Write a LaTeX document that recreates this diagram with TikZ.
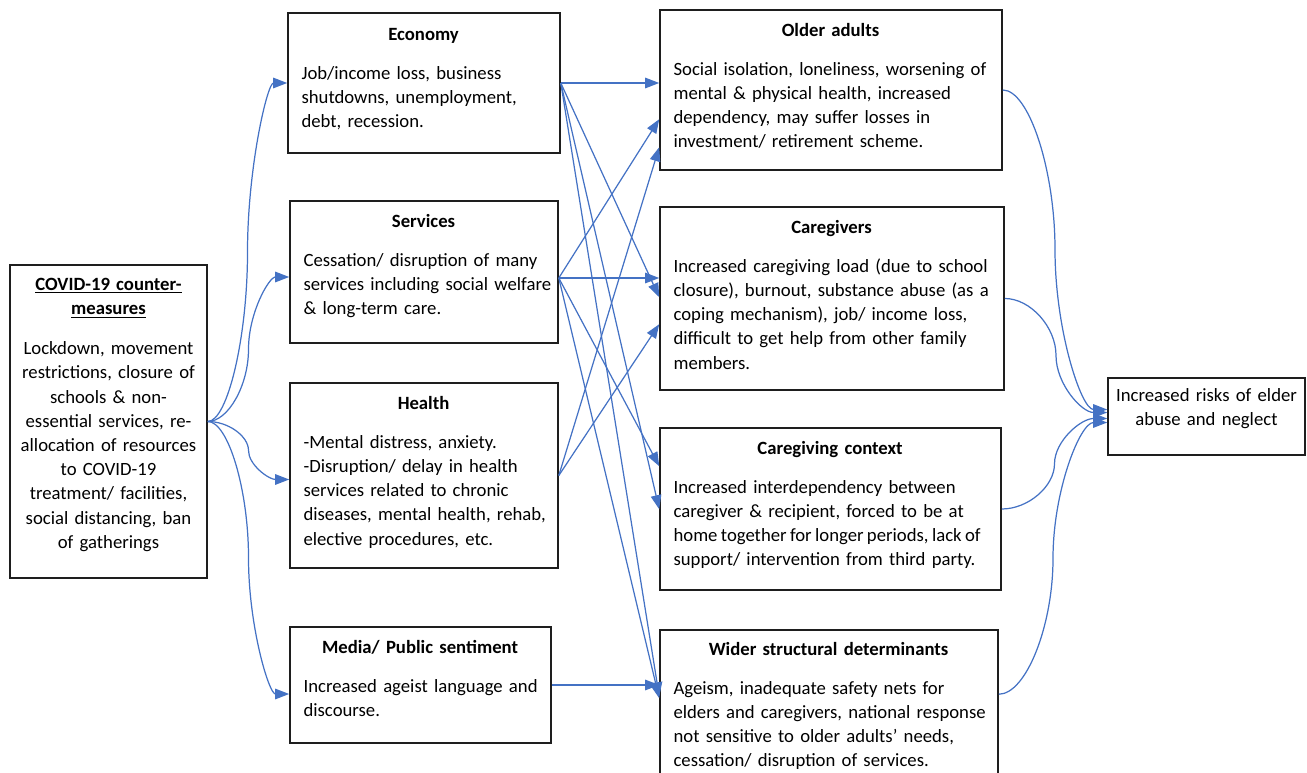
\documentclass[tikz,border=0pt]{standalone}
\usepackage{fontspec}
\setmainfont{Carlito}
\usetikzlibrary{arrows.meta,calc,fit}
\definecolor{arrowblue}{RGB}{68,114,196}
\definecolor{boxline}{RGB}{30,30,30}
\tikzset{
  box/.style={draw=boxline, line width=0.9pt, inner sep=0pt, fill=white},
  txt/.style={inner sep=0pt, font=\fontsize{10.65}{13.8}\selectfont, align=left, text width=8cm},
  ctxt/.style={inner sep=0pt, font=\fontsize{10.65}{13.8}\selectfont, align=center},
  conn/.style={draw=arrowblue, line width=0.7pt, -{Triangle[length=8pt,width=6pt]}},
  wcurve/.style={to path={let \p1=(\tikztostart), \p2=(\tikztotarget) in
     .. controls ({\x1+(\x2-\x1)/4},\y1) and ({(\x1+\x2)/2},{\y1+(\y2-\y1)/4}) .. ({(\x1+\x2)/2},{(\y1+\y2)/2})
     .. controls ({(\x1+\x2)/2},{\y1+3*(\y2-\y1)/4}) and ({\x2-(\x2-\x1)/4},\y2) .. (\tikztotarget)}}
}
\newcommand{\ttl}[2]{\makebox[#1][c]{\bfseries #2}\par\vspace{8.4pt}}
\begin{document}
\hyphenpenalty=10000 \exhyphenpenalty=10000
\begin{tikzpicture}[x=0.02cm,y=-0.02cm]
\useasboundingbox (0,0) rectangle (1307,773);

% boxes
\node[box, fit={(10,265) (207,578)}] (covid) {};
\node[box, fit={(288,13) (560,153)}] (econ) {};
\node[box, fit={(290,201) (558,343)}] (serv) {};
\node[box, fit={(290,383) (558,568)}] (health) {};
\node[box, fit={(290,627) (551,743)}] (media) {};
\node[box, fit={(660,10) (1002,170)}] (oa) {};
\node[box, fit={(660,207) (1004,390)}] (cg) {};
\node[box, fit={(660,428) (1001,590)}] (cc) {};
\node[box, fit={(660,630) (998,800)}] (ws) {};
\node[box, fit={(1108,378) (1305,455)}] (final) {};

% texts
\node[ctxt, text width=3.75cm, anchor=base] (covid-t) at ($(covid.north)+(0,26)$)
  {{\bfseries\underline{COVID-19 counter-}\\ \underline{measures}\par}\vspace{9pt}
   Lockdown, movement\\ restrictions, closure of\\ schools \& non-\\ essential services, re-\\ allocation of resources\\ to COVID-19\\ treatment/ facilities,\\ social distancing, ban\\ of gatherings};

\node[txt, anchor=base west] (econ-t) at ($(econ.north west)+(14,28)$)
  {\ttl{4.88cm}{Economy}
   Job/income loss, business\\ shutdowns, unemployment,\\ debt, recession.};

\node[txt, anchor=base west] (serv-t) at ($(serv.north west)+(14,27)$)
  {\ttl{4.8cm}{Services}
   Cessation/ disruption of many\\ services including social welfare\\ \& long-term care.};

\node[txt, anchor=base west] (health-t) at ($(health.north west)+(14,27)$)
  {\ttl{4.8cm}{Health}
   -Mental distress, anxiety.\\ -Disruption/ delay in health\\ services related to chronic\\ diseases, mental health, rehab,\\ elective procedures, etc.};

\node[txt, anchor=base west] (media-t) at ($(media.north west)+(14,27)$)
  {\ttl{4.66cm}{Media/ Public sentiment}
   Increased ageist language and\\ discourse.};

\node[txt, anchor=base west] (oa-t) at ($(oa.north west)+(14,27)$)
  {\ttl{6.28cm}{Older adults}
   Social isolation, loneliness, worsening of\\ mental \& physical health, increased\\ dependency, may suffer losses in\\ investment/ retirement scheme.};

\node[txt, anchor=base west] (cg-t) at ($(cg.north west)+(14,27)$)
  {\ttl{6.32cm}{Caregivers}
   Increased caregiving load (due to school\\ closure), burnout, substance abuse (as a\\ coping mechanism), job/ income loss,\\ difficult to get help from other family\\ members.};

\node[txt, anchor=base west] (cc-t) at ($(cc.north west)+(14,27)$)
  {\ttl{6.26cm}{Caregiving context}
   Increased interdependency between\\ caregiver \& recipient, forced to be at\\ {\spaceskip=0.8\fontdimen2\font plus 0.1em\relax home together for longer periods, lack of}\\ support/ intervention from third party.};

\node[txt, anchor=base west] (ws-t) at ($(ws.north west)+(14,26)$)
  {\ttl{6.2cm}{Wider structural determinants}
   Ageism, inadequate safety nets for\\ elders and caregivers, national response\\ not sensitive to older adults’ needs,\\ cessation/ disruption of services.};

\node[ctxt, text width=3.9cm, anchor=base] (final-t) at ($(final.north)+(0,24)$)
  {Increased risks of elder\\ abuse and neglect};

% left curved connectors
\draw[conn] (covid.east) to[wcurve] (econ.west);
\draw[conn] (covid.east) to[wcurve] ($(serv.west)+(0,5)$);
\draw[conn] (covid.east) to[wcurve] ($(health.west)+(0,4)$);
\draw[conn] (covid.east) to[wcurve] ($(media.west)+(0,9)$);

% middle straight connectors
\coordinate (so) at ($(serv.east)+(0,6)$);
\draw[conn] (econ.east) -- (econ.east -| oa.west);
\draw[conn] (econ.east) -- ($(cg.north west)+(0,91)$);
\draw[conn] (econ.east) -- ($(cc.north west)+(0,82)$);
\draw[conn] (econ.east) -- ($(ws.north west)+(0,67)$);

\draw[conn] (so) -- ($(oa.north west)+(0,110)$);
\draw[conn] (so) -- (so -| cg.west);
\draw[conn] (so) -- ($(cc.north west)+(0,39)$);
\draw[conn] (so) -- ($(ws.north west)+(0,69)$);

\draw[conn] (health.east) -- ($(oa.north west)+(0,138)$);
\draw[conn] (health.east) -- ($(cg.north west)+(0,118)$);

\draw[conn] (media.east) -- (media.east -| ws.west);

% right curved connectors
\draw[conn] (oa.east) to[wcurve] ($(final.west)+(0,-7)$);
\draw[conn] (cg.east) to[wcurve] ($(final.west)+(0,-4)$);
\draw[conn] (cc.east) to[wcurve] ($(final.west)+(0,2)$);
\draw[conn] ($(ws.north east)+(0,65)$) to[wcurve] ($(final.west)+(0,6)$);
\end{tikzpicture}
\end{document}
